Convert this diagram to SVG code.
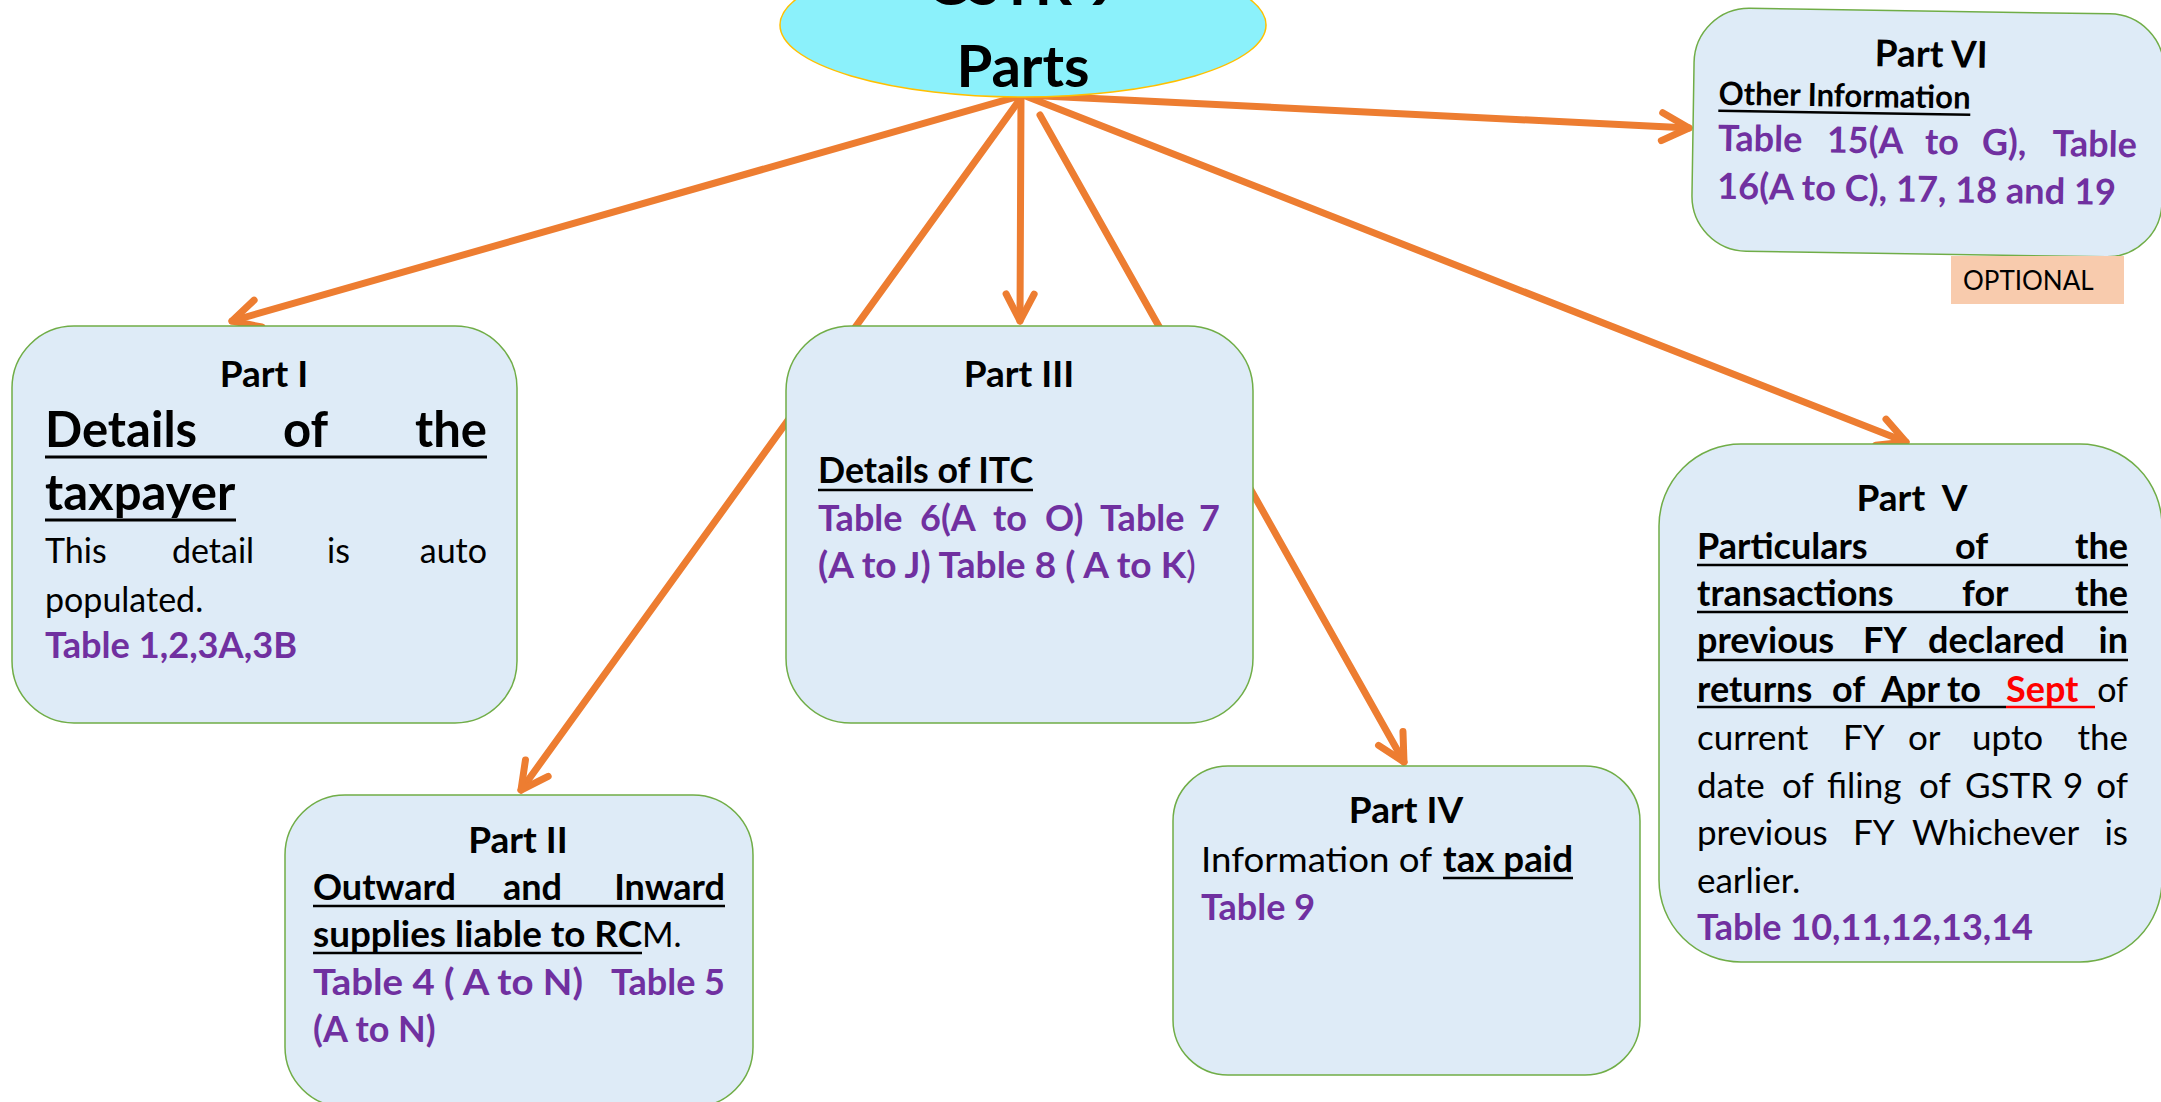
<svg xmlns="http://www.w3.org/2000/svg" width="2161" height="1102" viewBox="0 0 2161 1102">
<style>
.box{fill:#DEEBF7;stroke:#70AD47;stroke-width:1.5}
text{font-family:Lato,'Open Sans','Liberation Sans',sans-serif}
.t{font-size:37px;font-weight:700;fill:#000;text-anchor:middle}
.b{font-size:36px;font-weight:700;fill:#000}
.big{font-size:49px;font-weight:700;fill:#000}
.n{font-size:34px;font-weight:400;fill:#000}
.p{font-size:36px;font-weight:700;fill:#7030A0}
.e{text-anchor:end}
.u{stroke:#000;stroke-width:2.5}
.c{stroke:#ED7D31;stroke-width:7;stroke-linecap:round;fill:none;marker-end:url(#ah)}
</style>
<defs>
<marker id="ah" markerUnits="userSpaceOnUse" markerWidth="60" markerHeight="60" refX="0" refY="0" viewBox="-40 -30 60 60" orient="auto" overflow="visible">
<path d="M-27,-14 L0,0 L-27,14" fill="none" stroke="#ED7D31" stroke-width="7" stroke-linecap="round" stroke-linejoin="round"/>
</marker>
</defs>
<rect width="2161" height="1102" fill="#fff"/>

<g id="connectors">
<line class="c" x1="1023" y1="95" x2="232" y2="321"/>
<line class="c" x1="1023" y1="95" x2="521" y2="790"/>
<line class="c" x1="1021" y1="95" x2="1020" y2="321"/>
<line class="c" x1="1040" y1="115" x2="1404" y2="762"/>
<line class="c" x1="1023" y1="95" x2="1906" y2="442"/>
<line class="c" x1="1023" y1="95" x2="1689" y2="128"/>
</g>

<g id="center">
<ellipse cx="1023" cy="25" rx="243" ry="72" fill="#8BF1FB" stroke="#FFC000" stroke-width="1.5"/>
<text x="1023" y="5" style="font-size:58px;font-weight:700;text-anchor:middle">GSTR 9</text>
<text x="1023" y="87" style="font-size:58px;font-weight:700;text-anchor:middle">Parts</text>
</g>

<g id="part1">
<rect class="box" x="12" y="326" width="505" height="397" rx="62"/>
<text class="t" x="264" y="387">Part I</text>
<text class="big" x="45" y="447">Details</text>
<text class="big" x="283" y="447">of</text>
<text class="big e" x="487" y="447">the</text>
<line class="u" x1="45" y1="457" x2="487" y2="457" style="stroke-width:3"/>
<text class="big" x="45" y="510">taxpayer</text>
<line class="u" x1="45" y1="520" x2="236" y2="520" style="stroke-width:3"/>
<text class="n" x="45" y="563">This</text>
<text class="n" x="172" y="563">detail</text>
<text class="n" x="327" y="563">is</text>
<text class="n e" x="487" y="563">auto</text>
<text class="n" x="45" y="612">populated.</text>
<text class="p" x="45" y="658" textLength="252" lengthAdjust="spacingAndGlyphs">Table 1,2,3A,3B</text>
</g>

<g id="part3">
<rect class="box" x="786" y="326" width="467" height="397" rx="65"/>
<text class="t" x="1019" y="387">Part III</text>
<text class="b" x="818" y="483" textLength="215" lengthAdjust="spacingAndGlyphs">Details of ITC</text>
<line class="u" x1="818" y1="490" x2="1033" y2="490"/>
<text class="p" x="818" y="531">Table</text>
<text class="p" x="920" y="531">6(A</text>
<text class="p" x="993" y="531">to</text>
<text class="p" x="1045" y="531">O)</text>
<text class="p" x="1100" y="531">Table</text>
<text class="p e" x="1220" y="531">7</text>
<text class="p" x="818" y="578" textLength="378" lengthAdjust="spacingAndGlyphs">(A to J) Table 8 ( A to K<tspan style="font-weight:400">)</tspan></text>
</g>

<g id="part2">
<rect class="box" x="285" y="795" width="468" height="312" rx="60"/>
<text class="t" x="518" y="853">Part II</text>
<text class="b" x="313" y="900">Outward</text>
<text class="b" x="503" y="900">and</text>
<text class="b e" x="725" y="900">Inward</text>
<line class="u" x1="313" y1="906" x2="725" y2="906"/>
<text class="b" x="313" y="947" textLength="329" lengthAdjust="spacingAndGlyphs">supplies liable to RC</text>
<text class="n" x="642" y="947">M.</text>
<line class="u" x1="313" y1="953" x2="642" y2="953"/>
<text class="p" x="313" y="995" textLength="270" lengthAdjust="spacingAndGlyphs">Table 4 ( A to N)</text>
<text class="p e" x="725" y="995">Table 5</text>
<text class="p" x="313" y="1042">(A to N)</text>
</g>

<g id="part4">
<rect class="box" x="1173" y="766" width="467" height="309" rx="55"/>
<text class="t" x="1406" y="823">Part IV</text>
<text class="n" x="1201" y="872" textLength="231" lengthAdjust="spacingAndGlyphs">Information of</text>
<text class="b" x="1443" y="872" textLength="130" lengthAdjust="spacingAndGlyphs">tax paid</text>
<line class="u" x1="1443" y1="878" x2="1573" y2="878"/>
<text class="p" x="1201" y="920" textLength="114" lengthAdjust="spacingAndGlyphs">Table 9</text>
</g>

<g id="part5">
<rect class="box" x="1659" y="444" width="503" height="518" rx="82"/>
<text class="t" x="1912" y="511" xml:space="preserve">Part  V</text>
<text class="b" x="1697" y="559">Particulars</text>
<text class="b" x="1955" y="559">of</text>
<text class="b e" x="2128" y="559">the</text>
<line class="u" x1="1697" y1="565" x2="2128" y2="565"/>
<text class="b" x="1697" y="606">transactions</text>
<text class="b" x="1962" y="606">for</text>
<text class="b e" x="2128" y="606">the</text>
<line class="u" x1="1697" y1="612" x2="2128" y2="612"/>
<text class="b" x="1697" y="653">previous</text>
<text class="b" x="1863" y="653">FY</text>
<text class="b" x="1928" y="653">declared</text>
<text class="b e" x="2128" y="653">in</text>
<line class="u" x1="1697" y1="660" x2="2128" y2="660"/>
<text class="b" x="1697" y="702">returns</text>
<text class="b" x="1832" y="702">of</text>
<text class="b" x="1881" y="702">Apr</text>
<text class="b" x="1947" y="702">to</text>
<text class="b" x="2006" y="702" style="fill:#FF0000">Sept</text>
<text class="n e" x="2128" y="702">of</text>
<line class="u" x1="1697" y1="707" x2="2006" y2="707"/>
<line class="u" x1="2006" y1="707" x2="2095" y2="707" style="stroke:#FF0000"/>
<text class="n" x="1697" y="750" style="font-size:35px">current</text>
<text class="n" x="1843" y="750" style="font-size:35px">FY</text>
<text class="n" x="1908" y="750" style="font-size:35px">or</text>
<text class="n" x="1972" y="750" style="font-size:35px">upto</text>
<text class="n e" x="2128" y="750" style="font-size:35px">the</text>
<text class="n" x="1697" y="798" style="font-size:35px">date</text>
<text class="n" x="1782" y="798" style="font-size:35px">of</text>
<text class="n" x="1827" y="798" style="font-size:35px">filing</text>
<text class="n" x="1919" y="798" style="font-size:35px">of</text>
<text class="n" x="1965" y="798" style="font-size:35px">GSTR</text>
<text class="n" x="2063" y="798" style="font-size:35px">9</text>
<text class="n e" x="2128" y="798" style="font-size:35px">of</text>
<text class="n" x="1697" y="845" style="font-size:35px">previous</text>
<text class="n" x="1853" y="845" style="font-size:35px">FY</text>
<text class="n" x="1912" y="845" style="font-size:35px">Whichever</text>
<text class="n e" x="2128" y="845" style="font-size:35px">is</text>
<text class="n" x="1697" y="893" style="font-size:35px">earlier.</text>
<text class="p" x="1697" y="940" textLength="336" lengthAdjust="spacingAndGlyphs">Table 10,11,12,13,14</text>
</g>

<g id="part6">
<g transform="rotate(0.9 1927 132)">
<rect class="box" x="1693" y="11" width="470" height="243" rx="55"/>
<text class="t" x="1930" y="67">Part VI</text>
<text class="b" x="1718" y="108" style="font-size:32px" textLength="252" lengthAdjust="spacingAndGlyphs">Other Information</text>
<line class="u" x1="1718" y1="114" x2="1970" y2="114"/>
<text class="p" x="1718" y="154">Table</text>
<text class="p" x="1827" y="154">15(A</text>
<text class="p" x="1925" y="154">to</text>
<text class="p" x="1982" y="154">G),</text>
<text class="p e" x="2137" y="154">Table</text>
<text class="p" x="1718" y="202" textLength="399" lengthAdjust="spacingAndGlyphs">16(A to C), 17, 18 and 19</text>
</g>
</g>

<g id="optional">
<rect x="1951" y="256" width="173" height="48" fill="#F8CBAD"/>
<text x="1963" y="290" style="font-size:26px;fill:#000">OPTIONAL</text>
</g>
</svg>
